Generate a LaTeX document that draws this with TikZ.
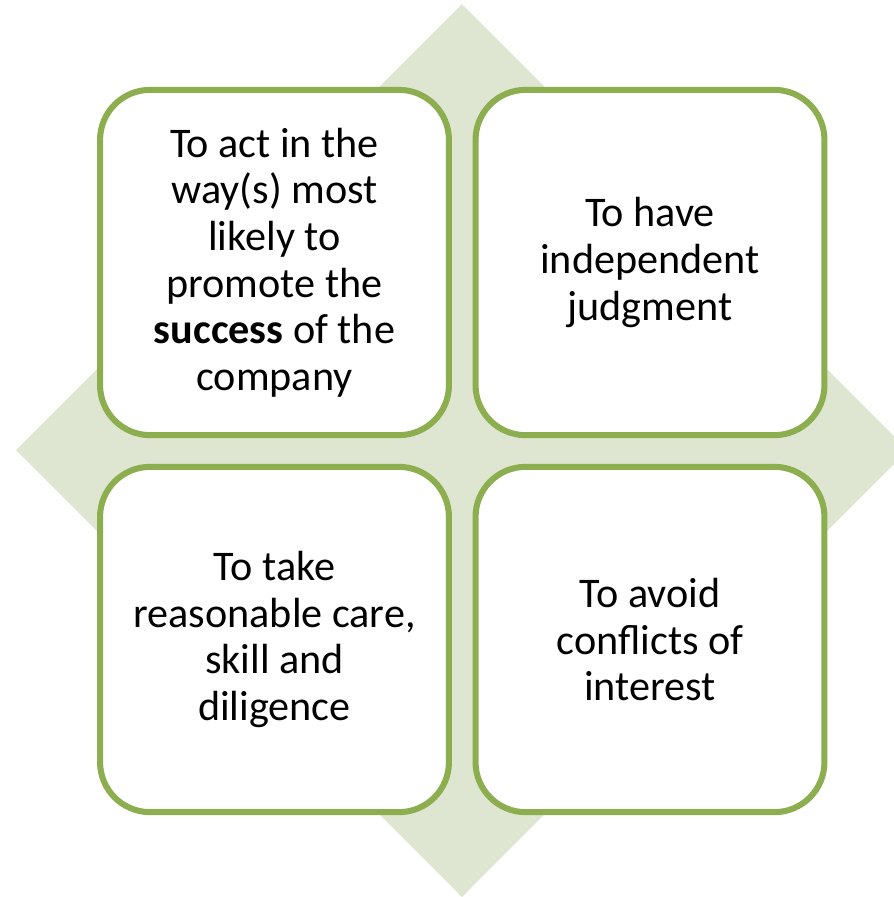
\documentclass[tikz,border=0pt]{standalone}
\usepackage{fontspec}
\setmainfont{Carlito}
\usepackage{tikz}
\definecolor{leafgreen}{HTML}{8DAE4E}
\definecolor{palegreen}{HTML}{DEE6D1}
\tikzset{
	dutystyle/.style={rectangle,rounded corners=1.25cm,draw=leafgreen,line width=4.3pt,fill=white,
		minimum width=8.72cm,minimum height=8.63cm,align=center,inner sep=0pt,
		font=\fontsize{30}{33.2}\selectfont},
	backstyle/.style={fill=palegreen,draw=none}
}

\begin{document}
\begin{tikzpicture}[x=0.025cm,y=-0.025cm]
		\useasboundingbox (0,0) rectangle (894,897);
		\clip (0,0) rectangle (894,897);
		\fill[backstyle] (462,4) -- (908,450) -- (462,897) -- (16,450) -- cycle;
		\node[dutystyle] (success) at (274.5,262.5) {To act in the\\way(s) most\\likely to\\promote the\\\textbf{success} of the\\company};
		\node[dutystyle] (judgment) at (650,262.5) {To have\\independent\\judgment};
		\node[dutystyle] (care) at (274.5,639.5) {To take\\reasonable care,\\skill and\\diligence};
		\node[dutystyle] (conflicts) at (650,639.5) {To avoid\\conflicts of\\interest};
		\end{tikzpicture}
\end{document}
